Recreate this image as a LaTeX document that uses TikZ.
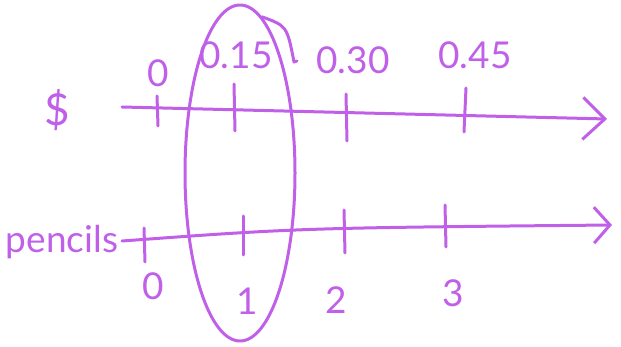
\documentclass[tikz,border=0pt]{standalone}
\usepackage{fontspec}
\setmainfont{Lato}
\usetikzlibrary{arrows.meta,shapes.geometric}
\definecolor{penPurple}{RGB}{192,96,232}

\begin{document}
\begin{tikzpicture}[
  x=1pt,y=-1pt,
  pen/.style={draw=penPurple,line width=3pt,line cap=round,line join=round},
  axis/.style={pen,-{Straight Barb[length=22pt,width=42pt,line width=3pt]}},
  lbl/.style={text=penPurple,font=\fontsize{37}{37}\selectfont,inner sep=0pt},
  unit/.style={lbl,font=\fontsize{44}{44}\selectfont}
]
\useasboundingbox (0,0) rectangle (621,347);

% dollar line
\node[unit] (dollar) at (57,110) {\$};
\coordinate (d0) at (122,107);
\coordinate (dEnd) at (607,119);
\draw[axis] (d0) -- (dEnd);
\draw[pen] (157,96) -- (158,126);
\draw[pen] (234,84) -- (235,131);
\draw[pen] (346,94) -- (347,141);
\draw[pen] (466,88) -- (464,132);
\node[lbl] (d00) at (158,73) {0};
\node[lbl] (d15) at (236,55) {0.15};
\node[lbl] (d30) at (353,60) {0.30};
\node[lbl] (d45) at (475,55) {0.45};

% pencil line
\node[lbl,anchor=base] (pencils) at (62,253) {pencils};
\coordinate (p0) at (122,241);
\coordinate (pEnd) at (612,225);
\draw[pen,-{Straight Barb[length=16pt,width=36pt,line width=3pt]}] (p0) .. controls (300,228) .. (pEnd);
\draw[pen] (144,228) -- (145,262);
\draw[pen] (243,216) -- (243,255);
\draw[pen] (344,210) -- (345,253);
\draw[pen] (445,205) -- (446,247);
\node[lbl] (p00) at (153,286) {0};
\node[lbl] (p1) at (247,301) {1};
\node[lbl] (p2) at (336,300) {2};
\node[lbl] (p3) at (453,293) {3};

% ring round one pencil
\node[pen,ellipse,minimum width=110pt,minimum height=336pt,inner sep=0pt] (grp) at (240,173) {};
\draw[pen] (grp.82) .. controls (287,26) .. (294,62) -- (297,61);
\end{tikzpicture}
\end{document}
